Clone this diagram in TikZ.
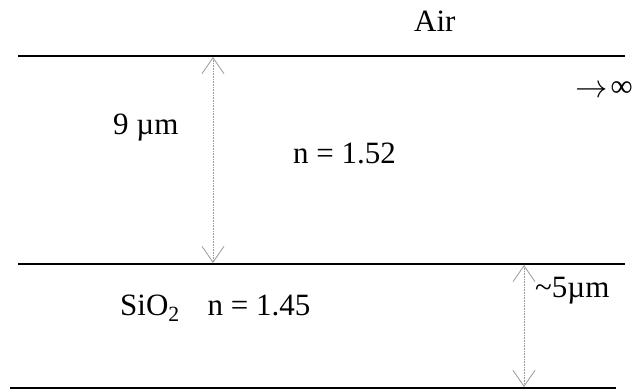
\documentclass[tikz,border=0pt]{standalone}
\usepackage{fontspec}
\usepackage{graphicx}
\setmainfont{Liberation Serif}
\usetikzlibrary{arrows.meta}
\begin{document}
\begin{tikzpicture}[x=1pt,y=-1pt,
  layer/.style={line width=2.2pt,black},
  dim/.style={gray!80,densely dotted,line width=0.6pt,
    {Straight Barb[length=16pt,width=22pt,line width=0.8pt,sep=0pt]}-{Straight Barb[length=16pt,width=22pt,line width=0.8pt]}},
  lbl/.style={font=\fontsize{31}{36}\selectfont,inner sep=0pt,anchor=base west}]
\useasboundingbox (0,0) rectangle (638,390);
\coordinate (t1) at (18,56);  \coordinate (t2) at (625,56);
\coordinate (m1) at (18,264); \coordinate (m2) at (625,264);
\coordinate (b1) at (10,388); \coordinate (b2) at (616,388);
\draw[layer] (t1) -- (t2);
\draw[layer] (m1) -- (m2);
\draw[layer] (b1) -- (b2);
\coordinate (a1) at (213,57); \coordinate (a2) at (213,263);
\coordinate (c1) at (524,265); \coordinate (c2) at (524,387);
\draw[dim] (a1) -- (a2);
\draw[dim] (c1) -- (c2);
\node[lbl] (air) at (414,32) {Air};
\node[lbl] (nine) at (113,135) {9 µm};
\node[lbl] (n1) at (293,164) {n = 1.52};
\node[lbl] (inf) at (575,97) {\raisebox{-1pt}{\scalebox{1.3}{$\rightarrow$}}\hspace{3pt}∞};
\node[lbl] (sio) at (120,316) {SiO\textsubscript{2}\hspace{0.9em}n = 1.45};
\node[lbl] (five) at (535,298) {\char"007E 5µm};
\end{tikzpicture}
\end{document}
